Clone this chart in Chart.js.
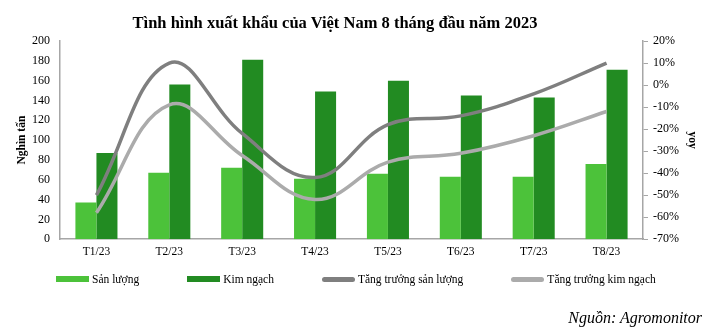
<!DOCTYPE html>
<html>
<head>
<meta charset="utf-8">
<script src="https://cdn.jsdelivr.net/npm/chart.js@4.4.0/dist/chart.umd.min.js"></script>
<style>
    body { margin: 0; background: #fff; }
    #wrap { position: relative; width: 708px; height: 331px; font-family: "Liberation Serif", "Times New Roman", serif; }
    #title { position: absolute; left: 0; width: 670px; top: 13px; text-align: center; font-weight: bold; font-size: 16.5px; color: #000; }
    #legend { position: absolute; left: 56px; top: 273px; display: flex; font-size: 11.5px; color: #000; }
    .item { display: flex; align-items: center; margin-right: 48px; }
    .item span.box { display: inline-block; width: 33px; height: 6px; margin-right: 3px; }
    #source { position: absolute; right: 6px; top: 309px; font-style: italic; font-size: 16px; color: #000; }
</style>
</head>
<body>
<div id="wrap">
    <canvas id="chart" width="708" height="331"></canvas>
    <div id="title">Tình hình xuất khẩu của Việt Nam 8 tháng đầu năm 2023</div>
    <div id="legend"></div>
    <div id="source">Nguồn: Agromonitor</div>
</div>
<script>
// data
var months = ['T1/23', 'T2/23', 'T3/23', 'T4/23', 'T5/23', 'T6/23', 'T7/23', 'T8/23'];
var sanLuong = [37, 67, 72, 61, 66, 63, 63, 76];
var kimNgach = [87, 156, 181, 149, 160, 145, 143, 171];
var tangTruongSanLuong = [-50, 10, -22, -42, -18, -14, -4, 10];
var tangTruongKimNgach = [-58, -9, -32, -52, -35, -31, -23, -12];

var leftTicks = { min: 0, max: 200, step: 20 };
var rightTicks = { min: -70, max: 20, step: 10 };

var axisColor = '#a6a6a6';
var serif = '"Liberation Serif", "Times New Roman", serif';

var ctx = document.getElementById('chart').getContext('2d');
var myChart = new Chart(ctx, {
    type: 'bar',
    data: {
        labels: months,
        datasets: [{
            label: 'Sản lượng',
            data: sanLuong,
            backgroundColor: '#4cc23a',
            yAxisID: 'y',
            order: 2,
            barPercentage: 1,
            categoryPercentage: 0.577
        }, {
            label: 'Kim ngạch',
            data: kimNgach,
            backgroundColor: '#228b22',
            yAxisID: 'y',
            order: 2,
            barPercentage: 1,
            categoryPercentage: 0.577
        }, {
            type: 'line',
            label: 'Tăng trưởng sản lượng',
            data: tangTruongSanLuong,
            borderColor: '#7f7f7f',
            backgroundColor: '#7f7f7f',
            borderWidth: 3.5,
            tension: 0.4,
            pointRadius: 0,
            yAxisID: 'y1',
            order: 1
        }, {
            type: 'line',
            label: 'Tăng trưởng kim ngạch',
            data: tangTruongKimNgach,
            borderColor: '#ababab',
            backgroundColor: '#ababab',
            borderWidth: 3.5,
            tension: 0.4,
            pointRadius: 0,
            yAxisID: 'y1',
            order: 1
        }]
    },
    options: {
        responsive: false,
        animation: false,
        layout: {
            padding: { top: 41, bottom: 66, left: 0, right: 0 }
        },
        scales: {
            x: {
                grid: { display: false, drawTicks: false },
                border: { color: axisColor, width: 1.5 },
                ticks: { color: '#000', padding: 6, font: { family: serif, size: 11.5 } }
            },
            y: {
                position: 'left',
                min: leftTicks.min,
                max: leftTicks.max,
                grid: { display: false, drawTicks: false },
                border: { color: axisColor, width: 1.5 },
                ticks: { stepSize: leftTicks.step, color: '#000', padding: 10, font: { family: serif, size: 12 } },
                title: {
                    display: true,
                    text: 'Nghìn tấn',
                    color: '#000',
                    padding: { top: 15, bottom: 0 },
                    font: { family: serif, size: 11.5, weight: 'bold' }
                },
                afterFit: function (scale) { scale.width = 60; }
            },
            y1: {
                position: 'right',
                min: rightTicks.min,
                max: rightTicks.max,
                grid: { drawOnChartArea: false, color: axisColor, tickLength: 5 },
                border: { color: axisColor, width: 1.5 },
                ticks: {
                    stepSize: rightTicks.step,
                    color: '#000',
                    padding: 5,
                    font: { family: serif, size: 12 },
                    callback: function (v) { return v + '%'; }
                },
                title: {
                    display: true,
                    text: 'yoy',
                    color: '#000',
                    padding: { top: 9, bottom: 0 },
                    font: { family: serif, size: 11.5, weight: 'bold' }
                },
                afterFit: function (scale) { scale.width = 65; }
            }
        },
        plugins: {
            legend: { display: false },
            tooltip: { enabled: false }
        }
    }
});

// html legend, same order as the datasets
var legendEl = document.getElementById('legend');
myChart.data.datasets.forEach(function (ds) {
    var item = document.createElement('div');
    item.className = 'item';
    var box = document.createElement('span');
    box.className = 'box';
    box.style.background = ds.backgroundColor;
    if (ds.type === 'line') {
        box.style.borderRadius = '3px';
        box.style.height = '5px';
    }
    item.appendChild(box);
    item.appendChild(document.createTextNode(ds.label));
    legendEl.appendChild(item);
});
</script>
</body>
</html>
